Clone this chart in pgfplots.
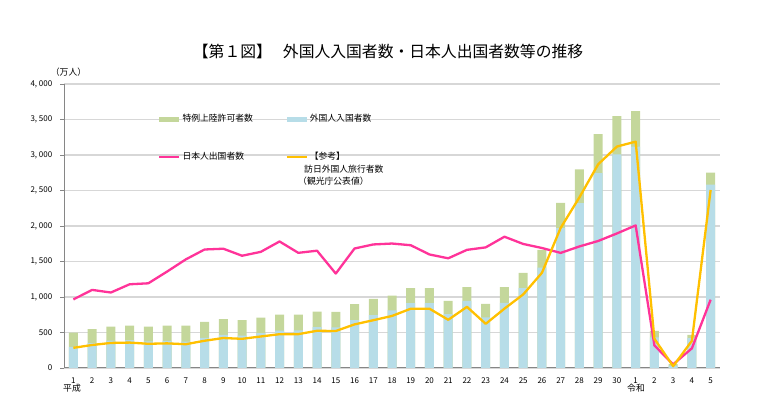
\documentclass[border=0pt]{standalone}
\usepackage{pgfplots}
\pgfplotsset{compat=1.18}
\usepackage{fontspec}
\setmainfont{Noto Sans CJK JP}
\definecolor{cgreen}{RGB}{196,215,155}
\definecolor{cblue}{RGB}{183,221,232}
\definecolor{cpink}{RGB}{255,51,153}
\definecolor{corange}{RGB}{255,192,0}
\definecolor{cgrid}{RGB}{215,215,215}
\definecolor{caxis}{RGB}{134,134,134}
\begin{document}
\begin{tikzpicture}
\useasboundingbox (0pt,0pt) rectangle (760pt,398pt);
\begin{axis}[
  at={(64pt,30pt)}, anchor=south west,
  scale only axis, width=656pt, height=284pt,
  xmin=-0.5, xmax=34.5, ymin=0, ymax=4000,
  axis lines=left, axis line style={-, draw=caxis, line width=1pt},
  ytick={0,500,1000,1500,2000,2500,3000,3500,4000},
  yticklabels={0,500,{1, 000},{1, 500},{2, 000},{2, 500},{3, 000},{3, 500},{4, 000}},
  xtick={0,1,2,3,4,5,6,7,8,9,10,11,12,13,14,15,16,17,18,19,20,21,22,23,24,25,26,27,28,29,30,31,32,33,34},
  xticklabels={1,2,3,4,5,6,7,8,9,10,11,12,13,14,15,16,17,18,19,20,21,22,23,24,25,26,27,28,29,30,1,2,3,4,5},
  ymajorgrids, grid style={cgrid, line width=1.3pt},
  tick align=outside, major tick length=3.5pt,
  ytick style={draw=caxis, line width=0.8pt},
  xtick style={draw=none},
  yticklabel style={font=\fontsize{8}{9}\selectfont, inner sep=0pt, xshift=-8pt},
  xticklabel style={font=\fontsize{8}{9}\selectfont, inner sep=0pt, text height=6pt, text depth=0pt, yshift=-6pt},
  legend columns=2,
  legend style={at={(0.1433,0.8926)}, anchor=north west, fill=none, draw=none,
    inner sep=0pt, column sep=2pt, row sep=29pt,
    font=\fontsize{8.8}{10}\selectfont,
    nodes={inner sep=0pt, text width=101pt, text height=7pt, text depth=2pt, align=left},
    cells={anchor=west}},
  clip=false,
]
% total (special landing permits on top of foreign entrants)
\addplot[ybar, bar width=9pt, bar shift=0pt, fill=cgreen, draw=none,
  legend image code/.code={\fill[cgreen] (0pt,-2.5pt) rectangle (20pt,2.5pt);}]
coordinates {(0,497)(1,549)(2,582)(3,596)(4,582)(5,596)(6,596)(7,648)(8,690)(9,676)(10,709)(11,751)(12,751)(13,793)(14,789)(15,901)(16,972)(17,1020)(18,1126)(19,1126)(20,944)(21,1140)(22,902)(23,1140)(24,1340)(25,1663)(26,2324)(27,2797)(28,3294)(29,3547)(30,3617)(31,523)(32,56)(33,467)(34,2750)};
\addlegendentry{特例上陸許可者数}
% foreign entrants
\addplot[ybar, bar width=9pt, bar shift=0pt, fill=cblue, draw=none,
  legend image code/.code={\fill[cblue] (0pt,-2.5pt) rectangle (20pt,2.5pt);}]
coordinates {(0,299)(1,350)(2,386)(3,393)(4,376)(5,383)(6,373)(7,424)(8,467)(9,456)(10,490)(11,527)(12,529)(13,577)(14,573)(15,676)(16,745)(17,811)(18,915)(19,915)(20,758)(21,944)(22,714)(23,917)(24,1126)(25,1415)(26,1969)(27,2322)(28,2743)(29,3010)(30,3119)(31,431)(32,35)(33,420)(34,2583)};
\addlegendentry{外国人入国者数}
% Japanese departures
\addplot[cpink, line width=2.3pt, mark=none, line join=round,
  legend image code/.code={\draw[cpink, line width=2.3pt] (0pt,0pt) -- (20pt,0pt);}]
coordinates {(0,966)(1,1100)(2,1063)(3,1179)(4,1193)(5,1358)(6,1530)(7,1669)(8,1680)(9,1581)(10,1636)(11,1782)(12,1622)(13,1652)(14,1330)(15,1683)(16,1740)(17,1753)(18,1729)(19,1599)(20,1545)(21,1664)(22,1699)(23,1849)(24,1747)(25,1690)(26,1621)(27,1712)(28,1789)(29,1895)(30,2008)(31,317)(32,51)(33,277)(34,962)};
\addlegendentry{日本人出国者数}
% visitor arrivals (JTA)
\addplot[corange, line width=2.3pt, mark=none, line join=round,
  legend image code/.code={\draw[corange, line width=2.3pt] (0pt,0pt) -- (20pt,0pt);}]
coordinates {(0,284)(1,324)(2,353)(3,358)(4,341)(5,347)(6,335)(7,384)(8,422)(9,411)(10,444)(11,476)(12,477)(13,524)(14,521)(15,614)(16,673)(17,733)(18,835)(19,835)(20,679)(21,861)(22,622)(23,836)(24,1036)(25,1341)(26,1974)(27,2404)(28,2869)(29,3119)(30,3188)(31,412)(32,25)(33,383)(34,2507)};
\addlegendentry{【参考】}
\node[font=\fontsize{8.8}{10}\selectfont, anchor=west, inner sep=0pt] at (rel axis cs:0.3659,0.699) {訪日外国人旅行者数};
\node[font=\fontsize{8.8}{10}\selectfont, anchor=west, inner sep=0pt] at (rel axis cs:0.3567,0.6585) {（観光庁公表値）};
\node[font=\fontsize{8.8}{10}\selectfont, inner sep=0pt] at (rel axis cs:0.0069,1.04) {（万人）};
\node[font=\fontsize{8.8}{10}\selectfont, inner sep=0pt] at (rel axis cs:0.0122,-0.0694) {平成};
\node[font=\fontsize{8.8}{10}\selectfont, inner sep=0pt] at (rel axis cs:0.872,-0.0694) {令和};
\node[font=\fontsize{15.8}{18}\selectfont, inner sep=0pt] at (rel axis cs:0.494,1.1127) {【第１図】\hspace{0.7em}外国人入国者数・日本人出国者数等の推移};
\end{axis}
\end{tikzpicture}
\end{document}
